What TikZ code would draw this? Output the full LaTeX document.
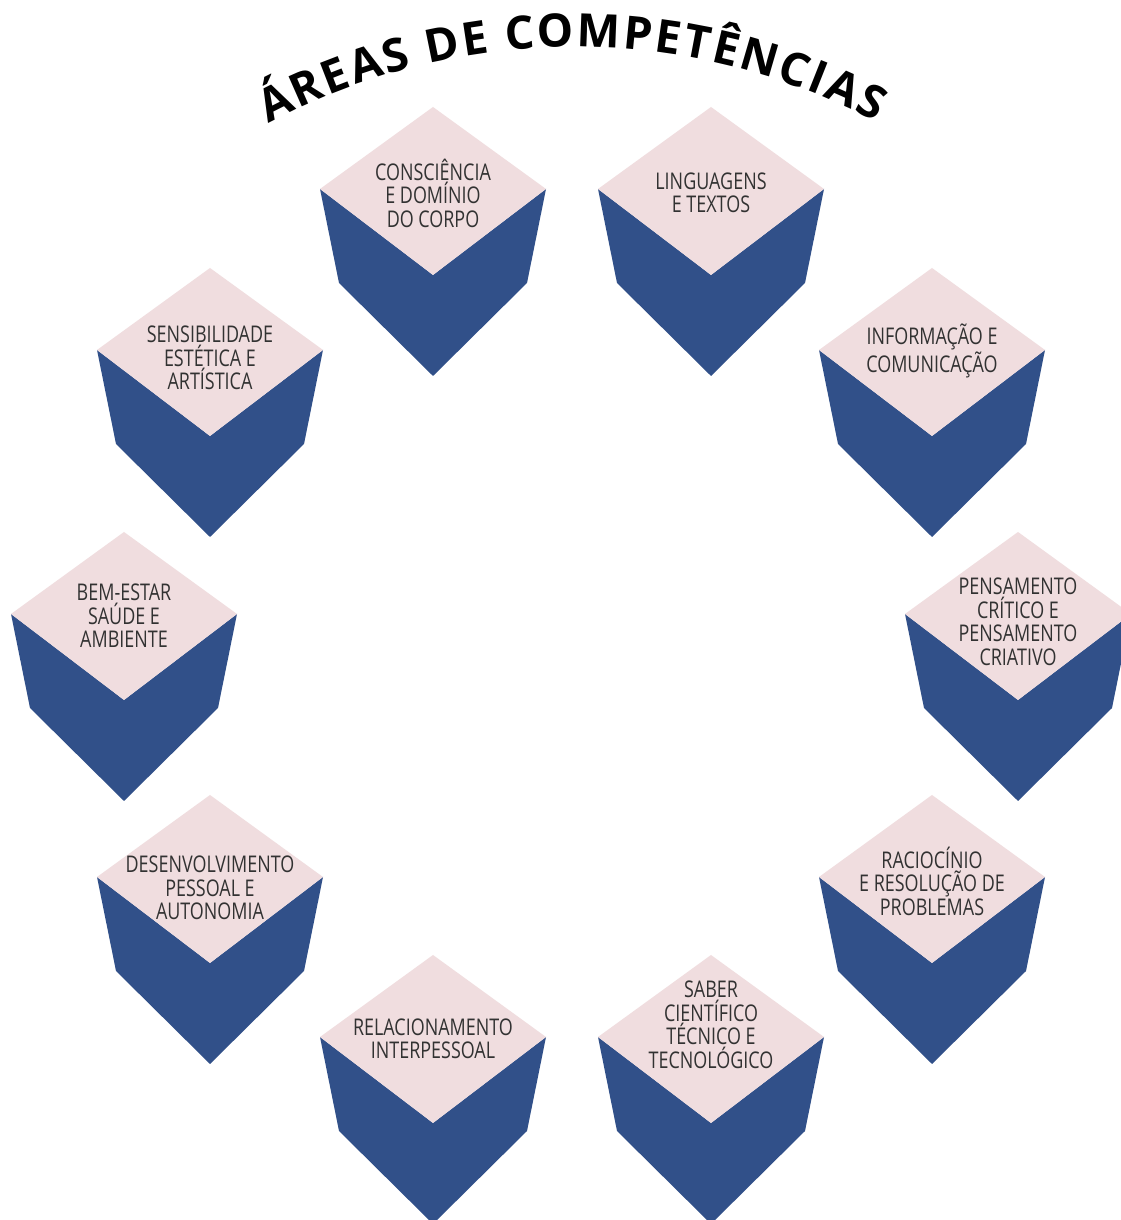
\documentclass[tikz,border=0pt]{standalone}
\usepackage{fontspec}
\setmainfont{Open Sans}
\newfontfamily\cubofonte[FakeStretch=0.78]{Open Sans}
\usetikzlibrary{decorations.text}

\definecolor{rosa}{RGB}{240,221,223}
\definecolor{azul}{RGB}{49,80,137}
\definecolor{cinza}{RGB}{50,50,50}

\newcommand{\titulofonte}{\fontsize{46}{46}\selectfont\bfseries}

% cube: top vertex at (#1,#2)
\newcommand{\cubo}[2]{%
  \begin{scope}[shift={(#1,#2)}]
    \fill[azul] (-113,-82)--(0,-168)--(113,-82)--(94,-176)--(0,-269)--(-94,-176)--cycle;
    \fill[rosa] (0,0)--(113,-82)--(0,-168)--(-113,-82)--cycle;
  \end{scope}}

\begin{document}
\begin{tikzpicture}[x=1pt, y=1pt,
  rotulo/.style={text=cinza, align=center, inner sep=0pt,
    font=\cubofonte\fontsize{23}{23.5}\selectfont}]
	\useasboundingbox[fill=white] (0,0) rectangle (1120,1220);
	% title
	\path[decorate, decoration={text along path, text align={fit to path},
	  text={|\titulofonte|ÁREAS DE COMPETÊNCIAS}}]
	  (574,526.5) ++(118.2:646.5) arc [start angle=118.2, end angle=62.2, radius=646.5];
	% cubes
	\cubo{433}{1113}
	\cubo{711}{1113}
	\cubo{932}{952}
	\cubo{1018}{688}
	\cubo{932}{425}
	\cubo{711}{265}
	\cubo{433}{265}
	\cubo{210}{425}
	\cubo{124}{688}
	\cubo{210}{952}
	% labels
	\node[rotulo] (consciencia) at (433,1027) {CONSCIÊNCIA\\E DOMÍNIO\\DO CORPO};
	\node[rotulo] (linguagens) at (711,1027) {LINGUAGENS\\E TEXTOS};
	\node[rotulo] (informacao) at (932,869) {INFORMAÇÃO E\\COMUNICAÇÃO};
	\node[rotulo] (pensamento) at (1018,598) {PENSAMENTO\\CRÍTICO E\\PENSAMENTO\\CRIATIVO};
	\node[rotulo] (raciocinio) at (932,339) {RACIOCÍNIO\\E RESOLUÇÃO DE\\PROBLEMAS};
	\node[rotulo] (saber) at (711,195) {SABER\\CIENTÍFICO\\TÉCNICO E\\TECNOLÓGICO};
	\node[rotulo] (relacionamento) at (433,181) {RELACIONAMENTO\\INTERPESSOAL};
	\node[rotulo] (desenvolvimento) at (210,332) {DESENVOLVIMENTO\\PESSOAL E\\AUTONOMIA};
	\node[rotulo] (bemestar) at (124,604) {BEM-ESTAR\\SAÚDE E\\AMBIENTE};
	\node[rotulo] (sensibilidade) at (210,862) {SENSIBILIDADE\\ESTÉTICA E\\ARTÍSTICA};
\end{tikzpicture}
\end{document}
